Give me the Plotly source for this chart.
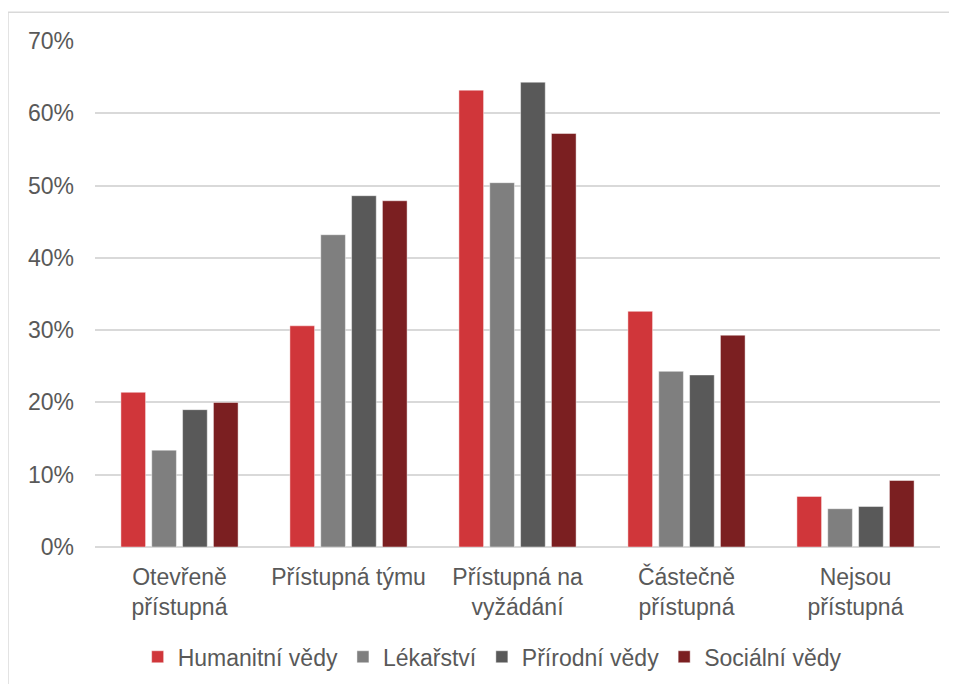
import plotly.graph_objects as go

# kategorie dostupnosti dat
kategorie = ["Otevřeně<br>přístupná", "Přístupná týmu", "Přístupná na<br>vyžádání",
             "Částečně<br>přístupná", "Nejsou<br>přístupná"]

# podíly v procentech podle oboru
humanitni = [21.4, 30.6, 63.2, 32.6, 7.0]
lekarstvi = [13.4, 43.2, 50.4, 24.3, 5.3]
prirodni = [19.0, 48.6, 64.3, 23.8, 5.6]
socialni = [20.0, 47.9, 57.2, 29.3, 9.2]

obory = ["Humanitní vědy", "Lékařství", "Přírodní vědy", "Sociální vědy"]
barvy = ["#d0363a", "#7f7f7f", "#595959", "#7b1f21"]

text_barva = "#595959"
mrizka = "#d9d9d9"

fig = go.Figure()
for nazev, hodnoty, barva in zip(obory, [humanitni, lekarstvi, prirodni, socialni], barvy):
    fig.add_trace(go.Bar(
        x=kategorie, y=hodnoty, name=nazev,
        marker=dict(color=barva, line=dict(color="rgba(255,255,255,0.45)", width=1)),
    ))

# rámeček kolem celého grafu
fig.add_shape(type="rect", xref="paper", yref="paper",
              x0=-0.103, x1=1.05, y0=-0.3, y1=1.057,
              line=dict(color=mrizka, width=1.5), fillcolor="rgba(0,0,0,0)", layer="below")

# stránka má okraj 8 px, proto je graf o něco menší
fig.update_layout(
    width=949, height=676,
    margin=dict(l=87, r=17, t=33, b=137),
    paper_bgcolor="white", plot_bgcolor="white",
    font=dict(family="Liberation Sans, Arial, sans-serif", size=23, color=text_barva),
    barmode="group", bargap=0.27, bargroupgap=0.2,
    showlegend=True,
    legend=dict(orientation="h", x=0.47, xanchor="center",
                yref="container", y=0.072, yanchor="top",
                font=dict(size=23, color=text_barva), itemwidth=30, traceorder="normal"),
)
fig.update_yaxes(range=[0, 70], dtick=10, ticksuffix="%", showgrid=True, gridcolor=mrizka,
                 gridwidth=1.5, zeroline=True, zerolinecolor=mrizka, zerolinewidth=1.5,
                 ticks="", ticklabelstandoff=20, showline=False, automargin=False)
fig.update_xaxes(showgrid=False, ticks="", showline=False, ticklabelstandoff=14,
                 automargin=False)

fig.write_html("out.html")
